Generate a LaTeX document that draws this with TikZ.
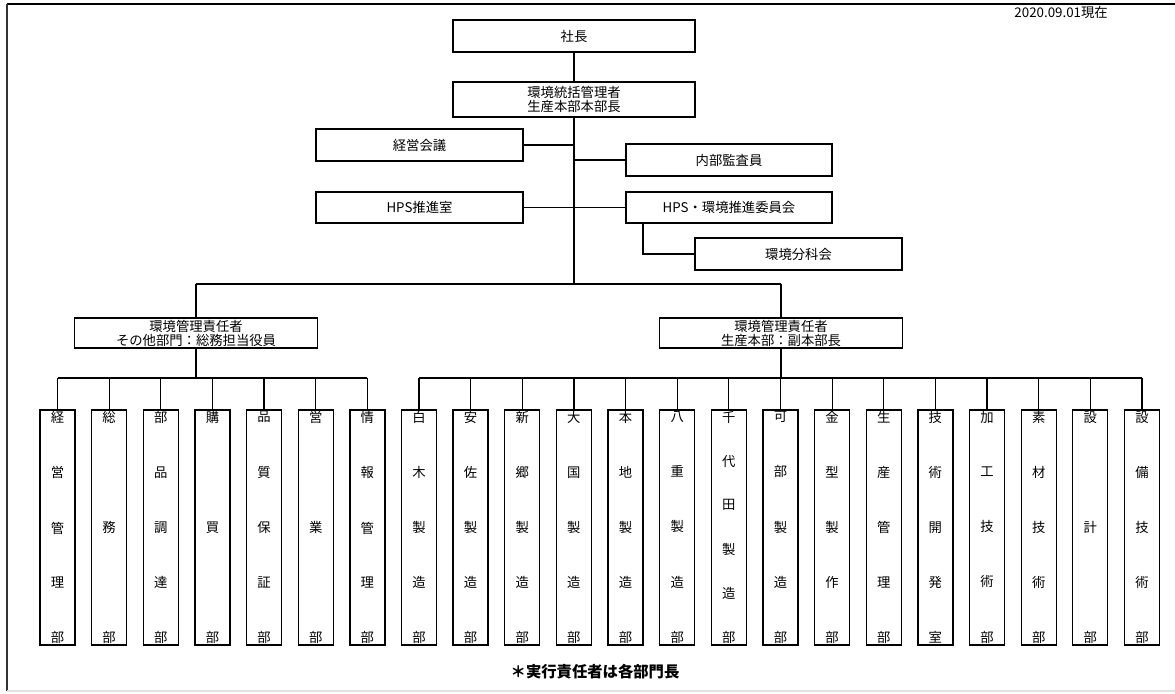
\documentclass[tikz,border=0pt]{standalone}
\usepackage{fontspec}
\setmainfont{Noto Sans CJK JP}
\usetikzlibrary{calc}
\newcommand\vcol[1]{\vbox to 173.5pt{\offinterlineskip\vcolA#1\relax}}
\def\vcolA#1{\hbox to 20pt{\hss#1\hss}\vcolB}
\def\vcolB#1{\ifx\relax#1\else\vfill\hbox to 20pt{\hss#1\hss}\expandafter\vcolB\fi}
\begin{document}
\begin{tikzpicture}[x=0.75pt,y=-0.75pt,
  box/.style={draw,line width=1pt,inner sep=0pt,font=\fontsize{10}{12}\selectfont,align=center},
  colbox/.style={draw,line width=1pt,inner sep=0pt,minimum width=26.25pt,minimum height=176.25pt,font=\fontsize{10}{12}\selectfont},
  conn/.style={line width=0.9pt}]
\useasboundingbox (0,0) rectangle (1175,693);
% frame
\draw[line width=1.6pt] (7,4) -- (1175,4);
\draw[line width=1pt,black!80] (7,4) -- (7,691);
\draw[line width=1pt,black!12] (7,691) -- (1175,691);
\node[anchor=east,font=\fontsize{10}{11}\selectfont,inner sep=0pt] (date) at (1108,12) {2020.09.01現在};
% top boxes
\node[box,minimum width=181.5pt,minimum height=24pt] (pres) at (574,36) {社長};
\node[box,minimum width=181.5pt,minimum height=26.25pt,font=\fontsize{10}{11}\selectfont] (env) at (574,99.5) {環境統括管理者\\生産本部本部長};
\node[box,minimum width=155.25pt,minimum height=24pt] (keiei) at (419.5,145) {経営会議};
\node[box,minimum width=154.5pt,minimum height=24pt] (naibu) at (729,160) {内部監査員};
\node[box,minimum width=155.25pt,minimum height=23.25pt] (hpsroom) at (419.5,207.5) {HPS推進室};
\node[box,minimum width=154.5pt,minimum height=23.25pt] (hpscom) at (729,207.5) {HPS・環境推進委員会};
\node[box,minimum width=155.25pt,minimum height=24pt] (bunka) at (798.5,254) {環境分科会};
\node[box,line width=1.3pt,minimum width=182.25pt,minimum height=22.5pt,font=\fontsize{10}{10.5}\selectfont] (mgrL) at (196,333) {環境管理責任者\\その他部門：総務担当役員};
\node[box,line width=1.3pt,minimum width=182.25pt,minimum height=22.5pt,font=\fontsize{10}{10.5}\selectfont] (mgrR) at (781,333) {環境管理責任者\\生産本部：副本部長};
\coordinate (trunkB) at (574,284);
\coordinate (busY) at (0,378);
\coordinate (brX) at (643,0);
% columns
\foreach \t [count=\i] in {経営管理部,総務部,部品調達部,購買部,品質保証部,営業部,情報管理部,
  白木製造部,安佐製造部,新郷製造部,大国製造部,本地製造部,八重製造部,千代田製造部,可部製造部,
  金型製作部,生産管理部,技術開発室,加工技術部,素材技術部,設計部,設備技術部}{
  \node[colbox] (c\i) at ({57.5+51.64*(\i-1)},527.5) {\expandafter\vcol\expandafter{\t}};
}
% connectors
\draw[conn] (pres) -- (env);
\draw[conn] (env) -- (trunkB);
\draw[conn] (keiei.east) -- (keiei.east -| env.south);
\draw[conn] (naibu.west) -- (naibu.west -| env.south);
\draw[conn] (hpsroom) -- (hpscom);
\draw[conn] (hpscom.south -| brX) |- (bunka.west);
\draw[conn] (mgrL.north |- trunkB) -- (mgrR.north |- trunkB);
\draw[conn] (mgrL.north |- trunkB) -- (mgrL.north);
\draw[conn] (mgrR.north |- trunkB) -- (mgrR.north);
\draw[conn] (mgrL.south) -- (mgrL.south |- busY);
\draw[conn] (mgrR.south) -- (mgrR.south |- busY);
\draw[conn] (c1.north |- busY) -- (c7.north |- busY);
\draw[conn] (c8.north |- busY) -- (c22.north |- busY);
\foreach \i in {1,...,22}{\draw[conn] (c\i.north) -- (c\i.north |- busY);}
\node[font=\fontsize{11.5}{12}\bfseries,inner sep=0pt] (note) at (595,672) {＊実行責任者は各部門長};
\end{tikzpicture}
\end{document}
